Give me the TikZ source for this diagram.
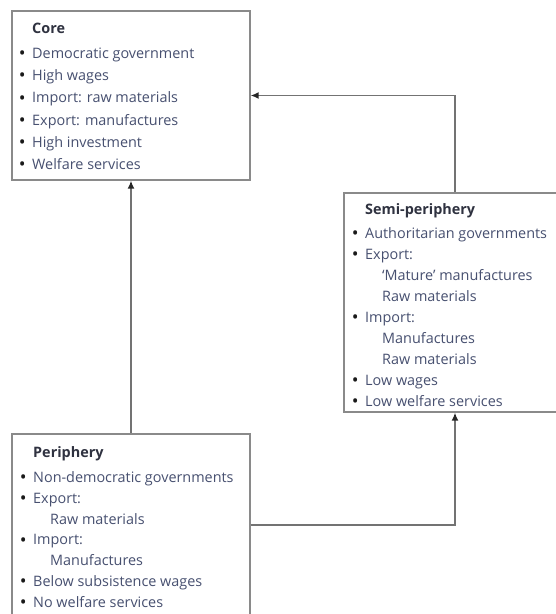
\documentclass[tikz,border=0pt]{standalone}
\usepackage{fontspec}
\setmainfont{Open Sans}
\usetikzlibrary{arrows.meta}
\definecolor{boxline}{HTML}{8A8A8A}
\definecolor{txt}{HTML}{475070}
\definecolor{ttl}{HTML}{2F3240}
\newcommand{\bul}{\makebox[0pt][r]{\textcolor{black!90}{\raisebox{-1.2pt}{\scalebox{1.25}{\textbullet}}}\hspace{6.5pt}}}
\newcommand{\sub}{\hspace*{17pt}}
\begin{document}
\begin{tikzpicture}[x=1pt,y=1pt,
  box/.style={draw=boxline,line width=1.3pt,rectangle,inner sep=0pt,fill=white},
  blocktext/.style={anchor=base west,align=left,inner sep=0pt,text=txt},
  conn/.style={draw=black!55,line width=1.5pt,-{Latex[length=8pt,width=7pt,color=black!85]}}]
\useasboundingbox (0,0) rectangle (556,614);
\node[box,minimum width=238pt,minimum height=169pt] (core) at (131,518.5) {};
\node[box,minimum width=222pt,minimum height=219pt] (semi) at (455,311.5) {};
\node[box,minimum width=238pt,minimum height=182pt] (peri) at (131,89) {};
% base anchor of a multi-line node = baseline of its last line
\node[blocktext,font=\fontsize{14.4}{22.2}\selectfont] (coretext) at (32,444.5) {%
  \textbf{\textcolor{ttl}{Core}}\\[2.8pt]
  \bul Democratic government\\
  \bul High wages\\
  \bul Import: raw materials\\
  \bul Export: manufactures\\
  \bul High investment\\
  \bul Welfare services};
\node[blocktext,font=\fontsize{14.4}{21}\selectfont] (semitext) at (365,207.5) {%
  \textbf{\textcolor{ttl}{Semi-periphery}}\\[3pt]
  \bul Authoritarian governments\\
  \bul Export:\\
  \sub `Mature' manufactures\\
  \sub Raw materials\\
  \bul Import:\\
  \sub Manufactures\\
  \sub Raw materials\\
  \bul Low wages\\
  \bul Low welfare services};
\node[blocktext,font=\fontsize{14.4}{20.8}\selectfont] (peritext) at (33,6.7) {%
  \textbf{\textcolor{ttl}{Periphery}}\\[4.2pt]
  \bul Non-democratic governments\\
  \bul Export:\\
  \sub Raw materials\\
  \bul Import:\\
  \sub Manufactures\\
  \bul Below subsistence wages\\
  \bul No welfare services};
\draw[conn] (semi.north) |- (core.east);
\draw[conn] (peri.north) -- (core.south);
\draw[conn] (peri.east) -| (semi.south);
\end{tikzpicture}
\end{document}
